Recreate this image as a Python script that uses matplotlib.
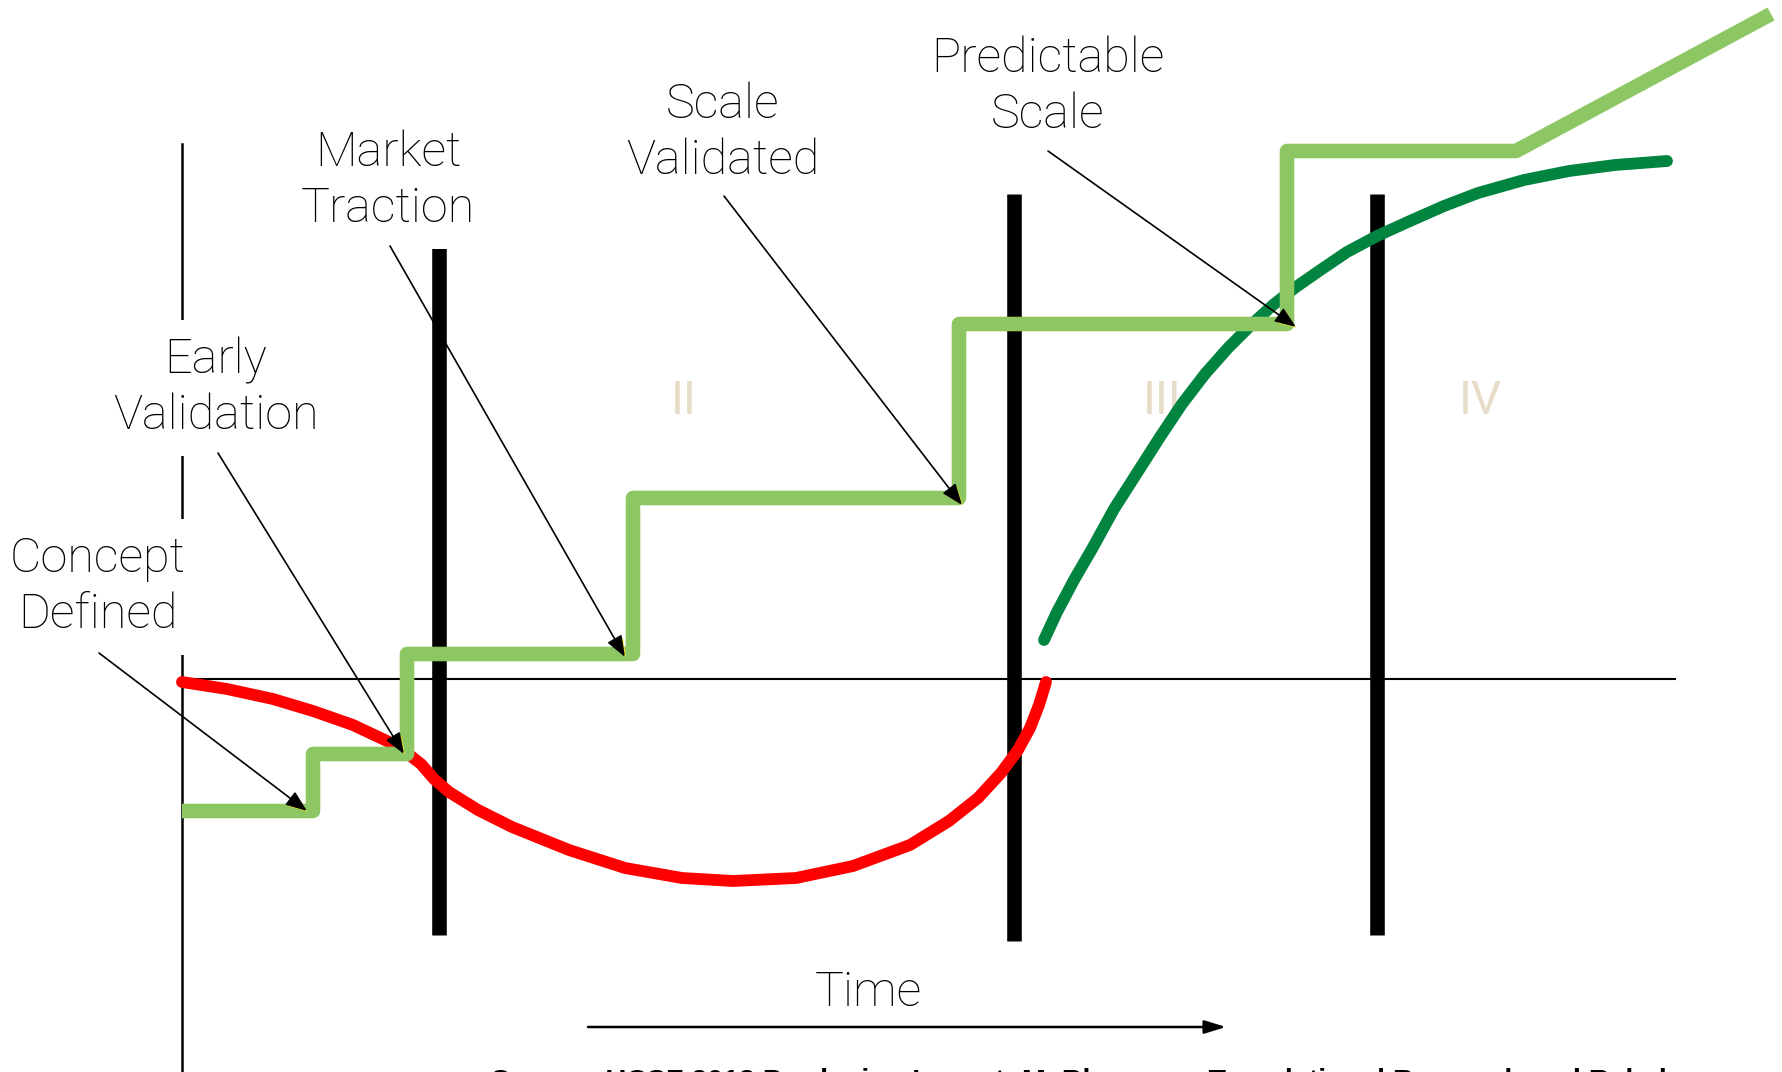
import matplotlib
matplotlib.use("Agg")
import matplotlib.pyplot as plt
import matplotlib.patheffects as pe

# step line: milestones (time, value)
step_x = [0, 1.31, 1.31, 2.25, 2.25, 4.51, 4.51, 7.77, 7.77, 11.05, 11.05, 13.34, 15.89]
step_y = [-1.32, -1.32, -0.75, -0.75, 0.25, 0.25, 1.81, 1.81, 3.55, 3.55, 5.28, 5.28, 6.65]

# red dip (cash curve)
red_x = [0.00, 0.45, 0.91, 1.31, 1.71, 2.05, 2.25, 2.39, 2.52, 2.67, 2.96, 3.30, 3.87,
         4.43, 5.00, 5.51, 6.14, 6.71, 7.28, 7.67, 7.96, 8.19, 8.36, 8.48, 8.57, 8.64]
red_y = [-0.03, -0.10, -0.20, -0.32, -0.46, -0.62, -0.74, -0.85, -1.00, -1.13, -1.31,
         -1.48, -1.71, -1.89, -1.99, -2.02, -1.99, -1.87, -1.66, -1.42, -1.19, -0.94,
         -0.71, -0.49, -0.26, -0.03]

# dark green growth curve
grow_x = [8.62, 8.75, 8.92, 9.10, 9.32, 9.55, 9.78, 10.00, 10.23, 10.46, 10.69, 10.91,
          11.14, 11.37, 11.65, 11.95, 12.28, 12.62, 12.96, 13.42, 13.87, 14.33, 14.85]
grow_y = [0.39, 0.67, 0.99, 1.30, 1.70, 2.06, 2.42, 2.75, 3.05, 3.31, 3.54, 3.74,
          3.92, 4.08, 4.27, 4.43, 4.58, 4.73, 4.86, 4.99, 5.08, 5.14, 5.18]

# stage dividers
bar_x = [2.57, 8.32, 11.95]
bar_top = [4.33, 4.85, 4.85]
bar_bot = [-2.56, -2.62, -2.56]

stage_labels = ["II", "III", "IV"]
stage_x = [5.02, 9.80, 12.98]
stage_y = 2.78

labels = ["Concept\nDefined", "Early\nValidation", "Market\nTraction",
          "Scale\nValidated", "Predictable\nScale"]
label_pos = [(-0.84, 0.92), (0.34, 2.91), (2.06, 4.98), (5.41, 5.46), (8.66, 5.92)]
arrow_from = [(-0.83, 0.26), (0.36, 2.26), (2.08, 4.33), (5.42, 4.83), (8.66, 5.28)]
arrow_to = [(1.25, -1.32), (2.22, -0.75), (4.43, 0.22), (7.80, 1.74), (11.14, 3.52)]

source = "Source: UCSF 2013 Producing Impact: M. Bhargava, Translational Research and Rebels"

font = "Roboto"

fig = plt.figure(figsize=(17.83, 10.72), dpi=100)
ax = fig.add_axes([0, 0, 1, 1])
ax.set_xlim(-1.82, 16.01)
ax.set_ylim(-3.93, 6.79)
ax.axis("off")

# axes lines
ax.plot([0, 0], [5.35, -3.93], color="black", lw=1.8, zorder=1)
ax.plot([0, 14.93], [0, 0], color="black", lw=1.5, zorder=1)

for x, t, b in zip(bar_x, bar_top, bar_bot):
    ax.plot([x, x], [b, t], color="black", lw=10.5, solid_capstyle="butt", zorder=2)

for s, x in zip(stage_labels, stage_x):
    ax.text(x, stage_y, s, color="#E6DCC8", fontsize=34, family=font, fontweight="normal",
            ha="center", va="center", zorder=1)

ax.plot(red_x, red_y, color="#FF0000", lw=8.5, solid_capstyle="round",
        solid_joinstyle="round", zorder=3)
ax.plot(grow_x, grow_y, color="#00843F", lw=8.5, solid_capstyle="round",
        solid_joinstyle="round", zorder=3)
ax.plot(step_x, step_y, color="#8DC764", lw=10.5, solid_joinstyle="round",
        solid_capstyle="butt", zorder=4)

for txt, (lx, ly) in zip(labels, label_pos):
    ax.text(lx, ly, txt, fontsize=35, family=font, fontweight="light", ha="center",
            va="center", linespacing=1.25, zorder=5,
            bbox=dict(facecolor="white", edgecolor="none", pad=12))

glow = [pe.withSimplePatchShadow(offset=(1.5, -1.5), shadow_rgbFace="#FFEE22", alpha=0.9)]
for (x0, y0), (x1, y1) in zip(arrow_from, arrow_to):
    ax.annotate("", xy=(x1, y1), xytext=(x0, y0),
                arrowprops=dict(arrowstyle="-|>,head_length=1.3,head_width=0.5",
                                color="black", lw=1.2, shrinkA=0, shrinkB=0,
                                path_effects=glow),
                zorder=6)

# time arrow
ax.text(6.86, -3.14, "Time", fontsize=35, family=font, fontweight="light",
        ha="center", va="center")
ax.annotate("", xy=(10.44, -3.48), xytext=(4.06, -3.48),
            arrowprops=dict(arrowstyle="-|>,head_length=1.3,head_width=0.4",
                            color="black", lw=1.8, shrinkA=0, shrinkB=0))

# source line, sized to the width it takes in the reference (cut by the bottom edge)
src = ax.text(3.09, -3.89, source, fontsize=20, family="Liberation Sans",
              fontweight="bold", ha="left", va="top")
fig.canvas.draw()
w = src.get_window_extent().width
src.set_fontsize(20 * 1192 / w)

fig.savefig("out.png", dpi=100)
